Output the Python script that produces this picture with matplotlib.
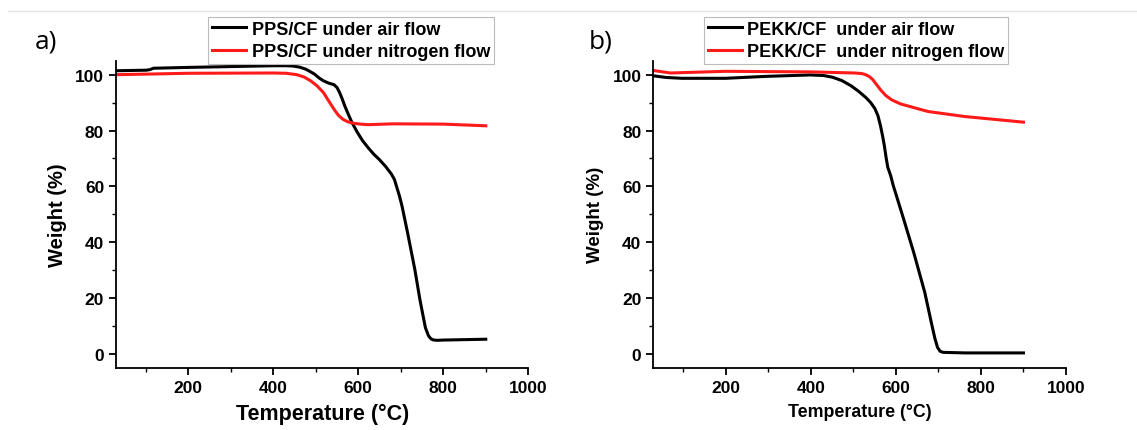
import matplotlib
matplotlib.use("Agg")
import matplotlib.pyplot as plt
from matplotlib.lines import Line2D
from matplotlib.ticker import MultipleLocator

plt.rcParams['font.family'] = ['Liberation Sans', 'DejaVu Sans']

# ---- Panel a: PPS/CF ----
pps_air_T = [30, 101, 110, 118, 200, 300, 400, 430, 446, 462, 476, 488, 497, 508, 518, 530, 543,
             550, 556, 562, 568, 576, 585, 598, 610, 623, 636, 649, 664, 678, 685, 691, 697, 703,
             716, 733, 745, 752, 758, 765, 770, 775, 785, 800, 900]
pps_air_W = [101.4, 101.6, 101.8, 102.3, 102.6, 102.9, 103.2, 103.2, 103.1, 102.7, 102.0, 101.0,
             100.2, 98.8, 97.8, 97.0, 96.4, 95.4, 93.6, 91.4, 88.9, 86.0, 82.9, 79.3, 76.4, 73.9,
             71.6, 69.7, 67.2, 64.4, 62.5, 59.5, 56.5, 52.9, 43.4, 30.3, 19.5, 14.0, 9.4, 6.6,
             5.6, 5.1, 4.9, 5.0, 5.3]
pps_n2_T = [30, 101, 200, 400, 430, 455, 472, 488, 503, 518, 530, 543, 553, 564, 576, 589,
            605, 623, 681, 800, 900]
pps_n2_W = [100.0, 100.2, 100.5, 100.6, 100.5, 100.0, 99.2, 97.8, 96.0, 93.6, 90.7, 87.6, 85.5,
            84.0, 83.1, 82.6, 82.3, 82.1, 82.4, 82.3, 81.7]

# ---- Panel b: PEKK/CF ----
pekk_air_T = [30, 60, 97, 200, 296, 399, 430, 451, 473, 494, 512, 529, 541, 551, 558, 564, 569,
              573, 577, 581, 588, 594, 616, 642, 668, 685, 692, 698, 704, 711, 763, 900]
pekk_air_W = [99.6, 99.0, 98.7, 98.7, 99.4, 99.9, 99.7, 99.1, 97.9, 96.1, 94.1, 91.9, 90.0,
              87.8, 85.3, 81.7, 78.0, 74.6, 70.5, 66.9, 63.8, 60.3, 49.5, 36.4, 22.1, 10.2, 5.5,
              2.4, 1.0, 0.6, 0.4, 0.4]
pekk_n2_T = [30, 70, 200, 399, 503, 520, 529, 538, 546, 555, 564, 576, 590, 610, 633, 676,
             763, 900]
pekk_n2_W = [101.5, 100.6, 101.2, 101.0, 100.6, 100.4, 100.0, 99.3, 98.2, 96.4, 94.6, 92.6,
             91.0, 89.6, 88.6, 86.8, 85.0, 83.0]

labels_a = ["PPS/CF under air flow", "PPS/CF under nitrogen flow"]
labels_b = ["PEKK/CF  under air flow", "PEKK/CF  under nitrogen flow"]
xticks = [200, 400, 600, 800, 1000]
yticks = [0, 20, 40, 60, 80, 100]

W, H = 1137, 431
fig = plt.figure(figsize=(W / 100, H / 100), dpi=100)

# thin gray line at the top
fig.add_artist(Line2D([8 / W, 1], [1 - 12.3 / H, 1 - 12.3 / H], color='#e2e2e2', lw=1,
                      transform=fig.transFigure))

TOP, BOT = 61.7, 369.0


def make_axes(left_px, right_px, data, labels, xlab_size, ylab_size, leg_left, tag, tag_x):
    ax = fig.add_axes([left_px / W, (H - BOT) / H, (right_px - left_px) / W, (BOT - TOP) / H])
    (t1, w1), (t2, w2) = data
    ax.plot(t1, w1, color='black', lw=2.2, label=labels[0], solid_joinstyle='round')
    ax.plot(t2, w2, color='#ff1a1a', lw=2.2, label=labels[1], solid_joinstyle='round')
    ax.set_xlim(30, 1000)
    ax.set_ylim(-5, 105)
    ax.set_xticks(xticks)
    ax.set_yticks(yticks)
    ax.xaxis.set_minor_locator(MultipleLocator(100))
    ax.yaxis.set_minor_locator(MultipleLocator(10))
    for s in ['top', 'right']:
        ax.spines[s].set_visible(False)
    for s in ['left', 'bottom']:
        ax.spines[s].set_linewidth(1.3)
    ax.tick_params(which='major', direction='out', length=5, width=1.3, labelsize=12.5, pad=3.5)
    ax.tick_params(which='minor', direction='out', length=3, width=1.0)
    for lab in ax.get_xticklabels() + ax.get_yticklabels():
        lab.set_fontweight('bold')
    ax.set_xlabel("Temperature (°C)", fontsize=xlab_size, fontweight='bold', labelpad=6)
    ax.set_ylabel("Weight (%)", fontsize=ylab_size, fontweight='bold', labelpad=6)
    leg = ax.legend(loc='upper left', bbox_to_anchor=(leg_left / W, 1 - 18 / H),
                    bbox_transform=fig.transFigure, prop={'weight': 'bold', 'size': 13},
                    handlelength=1.9, handletextpad=0.3, borderpad=0.2, labelspacing=0.3,
                    borderaxespad=0, fancybox=False, framealpha=1, edgecolor='#bbbbbb')
    leg.get_frame().set_linewidth(0.8)
    fig.text(tag_x / W, 1 - 42 / H, tag, fontsize=19, ha='left', va='center',
             family='Open Sans')
    return ax


make_axes(116.0, 528.3, [(pps_air_T, pps_air_W), (pps_n2_T, pps_n2_W)], labels_a,
          15.5, 14.5, 208.3, "a)", 35)
make_axes(653.3, 1066.0, [(pekk_air_T, pekk_air_W), (pekk_n2_T, pekk_n2_W)], labels_b,
          12.8, 13.5, 704, "b)", 589)

fig.savefig("out.png", dpi=100)
